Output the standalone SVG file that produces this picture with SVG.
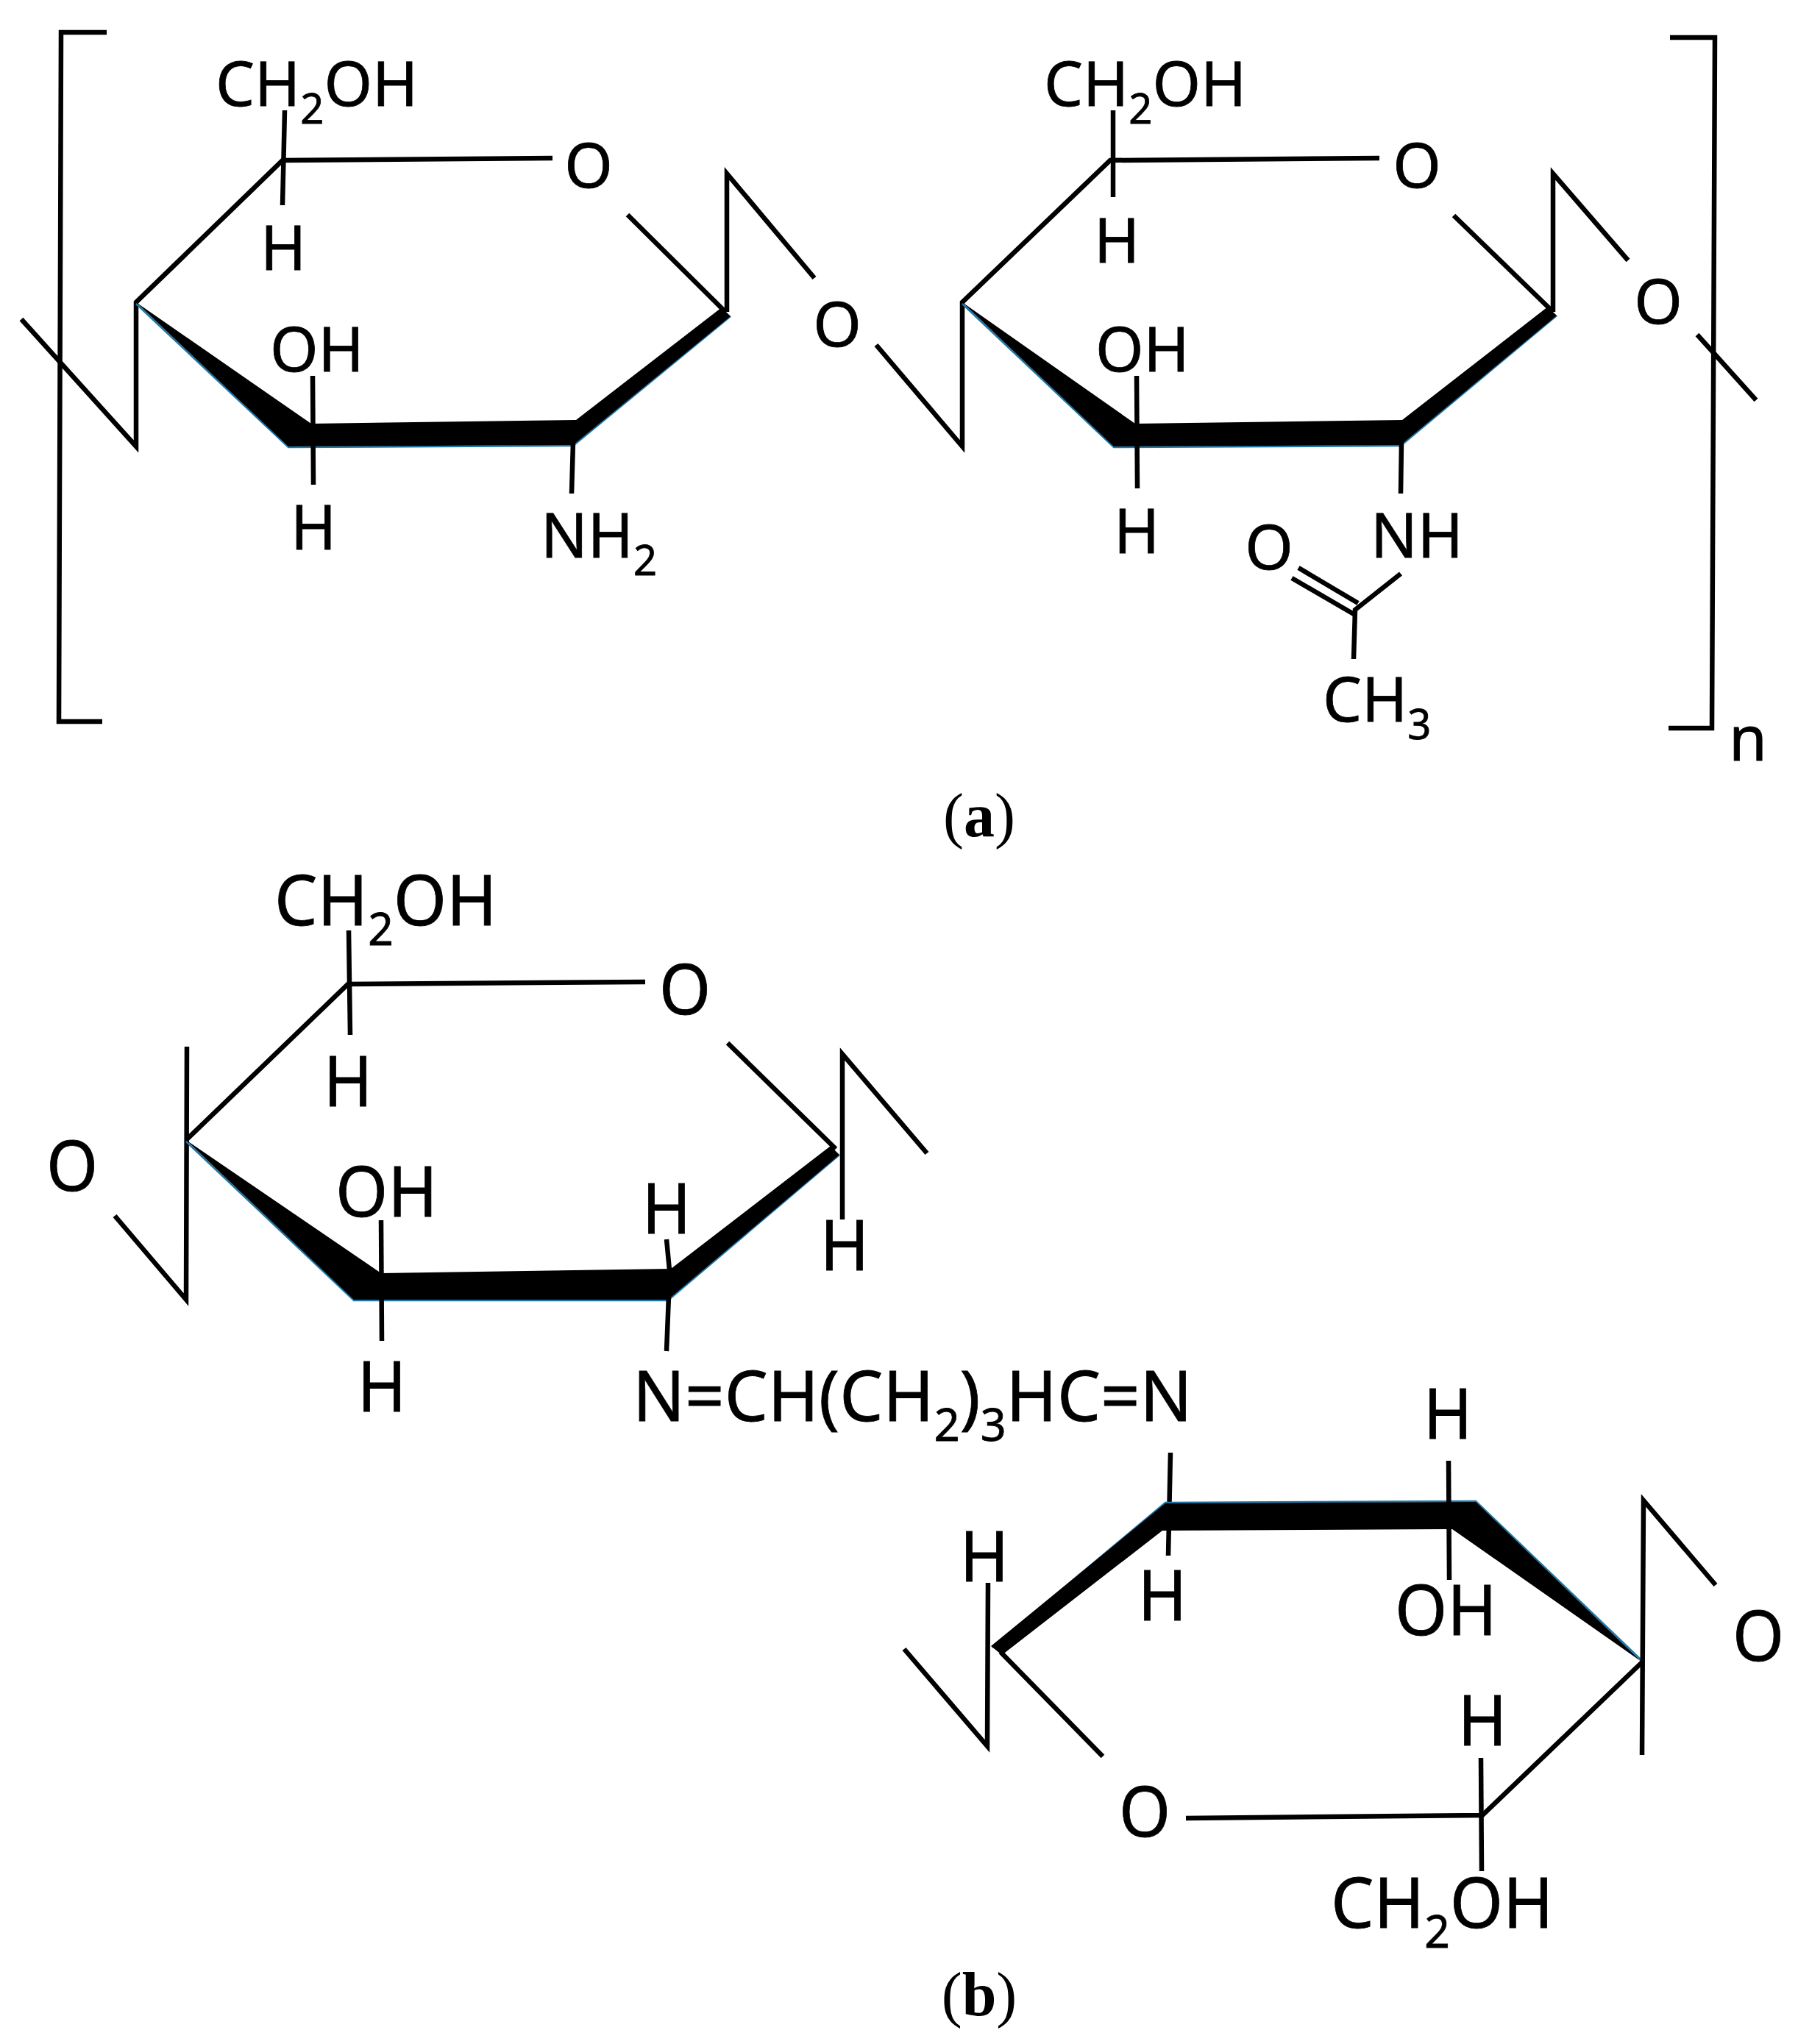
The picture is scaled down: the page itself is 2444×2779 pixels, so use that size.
<svg xmlns="http://www.w3.org/2000/svg" width="2444" height="2779" viewBox="0 0 2444 2779">
<style>
text{font-family:"Noto Sans","Open Sans",sans-serif;fill:#000;stroke:#000;stroke-width:.8}
.t{font-size:84px}
.w{font-size:95px}
.m{text-anchor:middle}
.s{font-size:56px}
.u{font-size:62px}
.cap{font-family:"Liberation Serif",serif;font-size:84px;text-anchor:middle;stroke:none}
.cap tspan{font-weight:bold}
line,polyline{fill:none;stroke:#000;stroke-width:6.5;stroke-linejoin:miter}
.wedge{fill:#000;stroke:none}
polyline.edge{stroke:#1f77a8;stroke-width:2.5}
</style>
<rect width="2444" height="2779" fill="#fff"/>
<g id="panel-a">
<g id="bracket-left"><polyline points="145,44 83,44 80,981 139,981"/></g>
<g id="bracket-right"><polyline points="2270,51 2331,51 2327,990 2268,990"/></g>
<g id="ring-a1">
<polyline points="29,434 185,607 185,411 384,218 751,215"/>
<line x1="387" y1="150" x2="384" y2="279"/>
<polyline class="edge" points="185,413 392,608 779,606 993,430"/>
<polygon class="wedge" points="185,411 423,576 783,571 981,418 993,430 779,605 392,607"/>
<polyline points="853,292 986,424"/>
<polyline points="1107,378 988,236 988,424"/>
<line x1="425" y1="511" x2="426" y2="659"/>
<line x1="779" y1="601" x2="777" y2="671"/>
<text class="t" x="293" y="144">CH<tspan class="s" dy="24">2</tspan><tspan dy="-24">OH</tspan></text>
<text class="t m" x="800" y="255">O</text>
<text class="t m" x="385" y="367">H</text>
<text class="t" x="367" y="505">OH</text>
<text class="t m" x="426" y="747">H</text>
<text class="t" x="735" y="758">NH<tspan class="s" dy="24">2</tspan></text>
<text class="t m" x="1138" y="471">O</text>
</g>
<g id="ring-a2">
<polyline points="1191,469 1308,607 1308,411 1509,218 1875,215"/>
<line x1="1513" y1="150" x2="1513" y2="268"/>
<polyline class="edge" points="1308,413 1514,608 1904,606 2116,429"/>
<polygon class="wedge" points="1308,411 1543,576 1906,571 2104,417 2116,429 1904,605 1514,607"/>
<polyline points="1976,293 2109,422"/>
<polyline points="2213,354 2111,236 2111,424"/>
<line x1="2307" y1="455" x2="2387" y2="544"/>
<line x1="1545" y1="511" x2="1546" y2="664"/>
<line x1="1905" y1="601" x2="1904" y2="671"/>
<line x1="1765" y1="772" x2="1846" y2="820"/>
<line x1="1756" y1="786" x2="1842" y2="836"/>
<polyline points="1904,780 1842,829 1840,896"/>
<text class="t" x="1419" y="144">CH<tspan class="s" dy="24">2</tspan><tspan dy="-24">OH</tspan></text>
<text class="t m" x="1926" y="255">O</text>
<text class="t m" x="1518" y="357">H</text>
<text class="t" x="1489" y="505">OH</text>
<text class="t m" x="1545" y="752">H</text>
<text class="t" x="1863" y="758">NH</text>
<text class="t m" x="1725" y="774">O</text>
<text class="t" x="1798" y="981">CH<tspan class="s" dy="24">3</tspan></text>
<text class="t m" x="2254" y="440">O</text>
<text class="t" x="2350" y="1034">n</text>
</g>
<text class="cap" x="1331" y="1137">(<tspan>a</tspan>)</text>
</g>
<g id="panel-b">
<g id="ring-b1">
<line x1="474" y1="1265" x2="476" y2="1407"/>
<polyline points="253,1550 473,1338 877,1335"/>
<polyline points="254,1423 253,1767 156,1653"/>
<polyline class="edge" points="253,1552 481,1768 908,1768 1141,1570"/>
<polygon class="wedge" points="253,1550 518,1731 912,1725 1129,1558 1141,1570 908,1767 481,1767"/>
<line x1="989" y1="1418" x2="1136" y2="1562"/>
<polyline points="1260,1568 1145,1433 1145,1658"/>
<line x1="518" y1="1659" x2="519" y2="1823"/>
<line x1="906" y1="1685" x2="910" y2="1727"/>
<line x1="909" y1="1762" x2="906" y2="1837"/>
<text class="w" transform="translate(373,1258) scale(.975,1)">CH<tspan class="u" dy="27">2</tspan><tspan dy="-27">OH</tspan></text>
<text class="w m" transform="translate(931,1379) scale(.945,1)">O</text>
<text class="w m" transform="translate(473,1504) scale(.945,1)">H</text>
<text class="w m" transform="translate(98,1619) scale(.945,1)">O</text>
<text class="w" transform="translate(456,1654) scale(.96,1)">OH</text>
<text class="w m" transform="translate(906,1677) scale(.945,1)">H</text>
<text class="w m" transform="translate(1148,1727) scale(.945,1)">H</text>
<text class="w m" transform="translate(519,1919) scale(.945,1)">H</text>
</g>
<g id="linker">
<text class="w" transform="translate(860,1932) scale(.985,1)">N=CH(CH<tspan class="u" dy="27">2</tspan><tspan dy="-27">)</tspan><tspan class="u" dy="27">3</tspan><tspan dy="-27">HC=N</tspan></text>
</g>
<g id="ring-b2">
<line x1="1591" y1="1975" x2="1588" y2="2115"/>
<polyline class="edge" points="1349,2240 1584,2043 2006,2041 2232,2258"/>
<polygon class="wedge" points="1347,2238 1584,2044 2006,2042 2231,2259 1974,2079 1580,2081 1362,2250"/>
<line x1="1969" y1="1986" x2="1970" y2="2148"/>
<polyline points="1343,2152 1342,2374 1229,2242"/>
<line x1="1360" y1="2246" x2="1499" y2="2388"/>
<polyline points="1612,2472 2015,2468 2233,2259"/>
<line x1="2013" y1="2390" x2="2014" y2="2544"/>
<polyline points="2332,2155 2234,2040 2232,2386"/>
<text class="w m" transform="translate(1968,1956) scale(.945,1)">H</text>
<text class="w" transform="translate(1896,2223) scale(.96,1)">OH</text>
<text class="w m" transform="translate(1580,2203) scale(.945,1)">H</text>
<text class="w m" transform="translate(1338,2150) scale(.945,1)">H</text>
<text class="w m" transform="translate(1556,2497) scale(.945,1)">O</text>
<text class="w m" transform="translate(2015,2373) scale(.945,1)">H</text>
<text class="w m" transform="translate(2390,2258) scale(.945,1)">O</text>
<text class="w" transform="translate(1809,2621) scale(.975,1)">CH<tspan class="u" dy="27">2</tspan><tspan dy="-27">OH</tspan></text>
</g>
<text class="cap" x="1331" y="2740">(<tspan>b</tspan>)</text>
</g>
</svg>
